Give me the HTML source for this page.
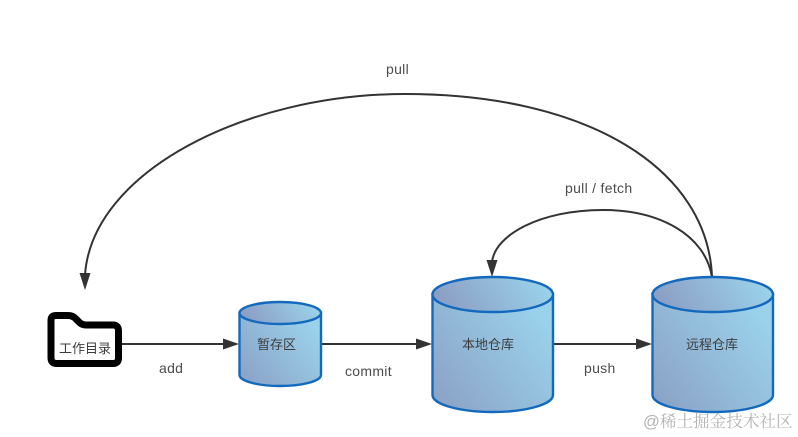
<!DOCTYPE html>
<html><head><meta charset="utf-8">
<style>
html,body{margin:0;padding:0;background:#fff;width:798px;height:437px;overflow:hidden}
svg{display:block}
text{font-family:"Liberation Sans","Noto Sans CJK SC",sans-serif;font-size:13px;fill:#3c3c3c}
text.l{font-size:14px;letter-spacing:.3px;fill:#4c4c4c}
</style></head><body>
<svg width="798" height="437" viewBox="0 0 798 437" xmlns="http://www.w3.org/2000/svg">
<defs>
<linearGradient id="g" x1="0" y1="1" x2="1" y2="0.3">
<stop offset="0" stop-color="#8a9fc4"/><stop offset="1" stop-color="#9ad2ec"/>
</linearGradient>
<linearGradient id="t" x1="0" y1="0.6" x2="1" y2="0.4">
<stop offset="0" stop-color="#8b9cc2"/><stop offset="1" stop-color="#9ad3ec"/>
</linearGradient>
</defs>
<path d="M712 277C708 170 590 94 405 94C245 94 92 172 85 275" fill="none" stroke="#333" stroke-width="2"/>
<path d="M79.500 273L90.500 273L85 290Z" fill="#333"/>
<path d="M712 277C705 235 660 210 603 210C540 210 495 235 492 262" fill="none" stroke="#333" stroke-width="2"/>
<path d="M486.500 260L497.500 260L492 277Z" fill="#333"/>
<path d="M56 315.500H68Q73 315.500 76 319L79 322Q82 325 86 325H113Q118.500 325 118.500 331V358Q118.500 363.500 113 363.500H57Q51 363.500 51 358V320Q51 315.500 56 315.500Z" fill="#fff" stroke="#000" stroke-width="7" stroke-linejoin="round"/>
<path d="M122 344H225" stroke="#333" stroke-width="2"/><path d="M223 338.500L239 344L223 349.500Z" fill="#333"/>
<path d="M321 344H418" stroke="#333" stroke-width="2"/><path d="M416 338.500L432 344L416 349.500Z" fill="#333"/>
<path d="M553 344H638" stroke="#333" stroke-width="2"/><path d="M636 338.500L652 344L636 349.500Z" fill="#333"/>
<g stroke="#1269bd" stroke-width="2.400">
<path d="M239.500 313V375A40.750 11 0 0 0 321 375V313Z" fill="url(#g)"/>
<ellipse cx="280.250" cy="313" rx="40.750" ry="11" fill="url(#t)"/>
<path d="M432.500 294V395A60.250 17 0 0 0 553 395V294Z" fill="url(#g)"/>
<ellipse cx="492.750" cy="294.500" rx="60.250" ry="17.500" fill="url(#t)"/>
<path d="M652.500 294V395A60.250 17 0 0 0 773 395V294Z" fill="url(#g)"/>
<ellipse cx="712.750" cy="294.500" rx="60.250" ry="17.500" fill="url(#t)"/>
</g>
<text x="59" y="353">工作目录</text>
<text x="257" y="349">暂存区</text>
<text x="462" y="349">本地仓库</text>
<text x="686" y="349">远程仓库</text>
<text class="l" x="386" y="74">pull</text>
<text class="l" x="565" y="193">pull / fetch</text>
<text class="l" x="159" y="373">add</text>
<text class="l" x="345" y="376">commit</text>
<text class="l" x="584" y="373">push</text>
<text x="643" y="427" style="font-size:16.600px;fill:#b4b4b4;font-family:'Liberation Sans','Noto Serif CJK SC',sans-serif">@稀土掘金技术社区</text>
</svg>
</body></html>
